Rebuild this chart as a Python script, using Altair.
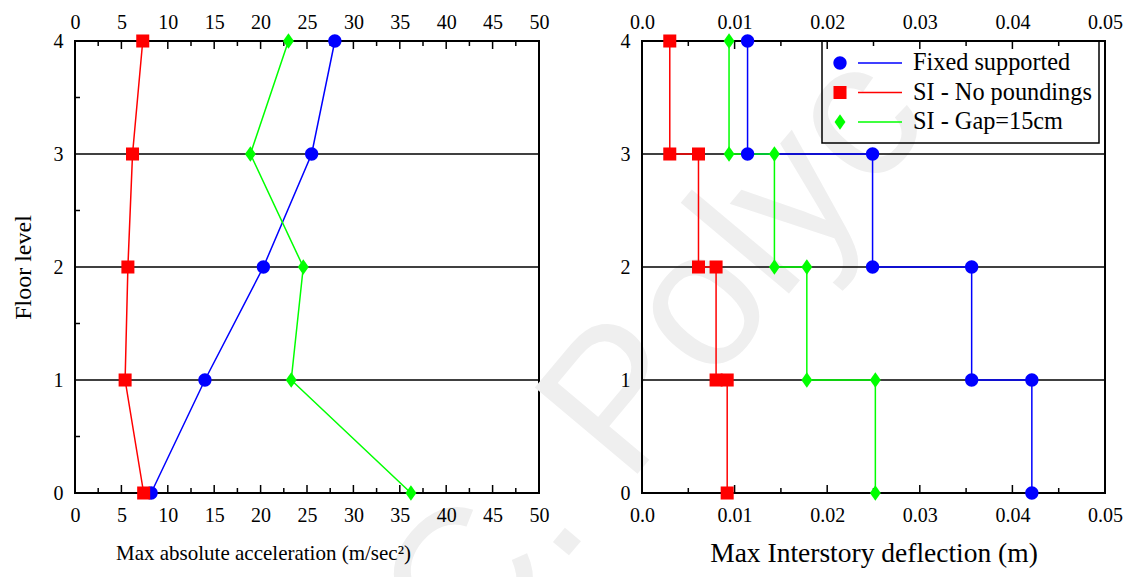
import altair as alt
import pandas as pd

# ---------------------------------------------------------------- data
floors = [0, 1, 2, 3, 4]
series_names = ["Fixed supported", "SI - No poundings", "SI - Gap=15cm"]
series_colors = ["#0000ff", "#ff0000", "#00ff00"]

# Max absolute acceleration at each floor level (m/sec^2)
acc_fixed = [8.2, 14.0, 20.3, 25.5, 28.0]
acc_no_pounding = [7.4, 5.4, 5.7, 6.2, 7.3]
acc_gap15 = [36.2, 23.3, 24.6, 18.9, 23.0]

# Max interstory deflection of storeys 1..4 (m)
drift_fixed = [0.0421, 0.0356, 0.0249, 0.0114]
drift_no_pounding = [0.0092, 0.0080, 0.0061, 0.0030]
drift_gap15 = [0.0252, 0.0178, 0.0143, 0.0094]

acc_ticks_major = [0, 5, 10, 15, 20, 25, 30, 35, 40, 45, 50]
acc_ticks_minor = [2.5, 7.5, 12.5, 17.5, 22.5, 27.5, 32.5, 37.5, 42.5, 47.5]
drift_ticks_major = [0.0, 0.01, 0.02, 0.03, 0.04, 0.05]
drift_ticks_minor = [0.005, 0.015, 0.025, 0.035, 0.045]
floor_ticks_minor = [0.5, 1.5, 2.5, 3.5]

watermark_text = "C. Polyc"

# ---------------------------------------------------------------- styling
SERIF = "Liberation Serif"
W1, W2, H = 464, 463, 452
MAJOR, MINOR = 8, 5
MARKER_SIZE = 196  # custom paths are scaled by sqrt(size)/2 = 7 px per unit

marker_paths = [
    "M 0.95 0 C 0.95 0.5247 0.5247 0.95 0 0.95 C -0.5247 0.95 -0.95 0.5247 -0.95 0 "
    "C -0.95 -0.5247 -0.5247 -0.95 0 -0.95 C 0.5247 -0.95 0.95 -0.5247 0.95 0 Z",
    "M -0.93 -0.93 L 0.93 -0.93 L 0.93 0.93 L -0.93 0.93 Z",
    "M 0 -1.1 L 0.78 0 L 0 1.1 L -0.78 0 Z",
]

acc_lists = [acc_fixed, acc_no_pounding, acc_gap15]
drift_lists = [drift_fixed, drift_no_pounding, drift_gap15]

acc_df = pd.DataFrame(
    [
        {"series": name, "floor": f, "acc": v}
        for name, values in zip(series_names, acc_lists)
        for f, v in zip(floors, values)
    ]
)

# step profile: each storey's deflection spans from its base floor to its top floor
drift_rows = []
for name, values in zip(series_names, drift_lists):
    for k, d in enumerate(values, start=1):
        drift_rows.append({"series": name, "floor": k - 1, "drift": d, "step": 2 * k - 2})
        drift_rows.append({"series": name, "floor": k, "drift": d, "step": 2 * k - 1})
drift_df = pd.DataFrame(drift_rows)

color_scale = alt.Scale(domain=series_names, range=series_colors)
y_scale = alt.Scale(domain=[0, 4], nice=False, zero=False)


def panel(df, field, x_domain, width, major, minor, x_title, title_x, title_size,
          label_expr=None, y_title=None, y_minor=None):
    x_scale = alt.Scale(domain=x_domain, nice=False, zero=False)
    y_axis = alt.Axis(orient="left", values=floors, format="d", title=y_title,
                      titleFontSize=24, titlePadding=18, zindex=1)
    extra = {"labelExpr": label_expr} if label_expr else {}
    bottom_axis = alt.Axis(orient="bottom", values=major, title=x_title,
                           titleFontSize=title_size, titleX=title_x, titleY=60,
                           titleBaseline="middle", zindex=1, **extra)
    top_axis = alt.Axis(orient="top", values=major, title=None, zindex=1, **extra)

    def yenc():
        return alt.Y("floor:Q", scale=y_scale, axis=y_axis)

    layers = []

    if y_title is not None:
        # faint watermark lettering behind everything
        layers.append(
            alt.Chart(pd.DataFrame({"t": [watermark_text]}))
            .mark_text(font="Liberation Sans", fontSize=195, color="#efefef",
                       angle=310, align="left", baseline="alphabetic")
            .encode(text="t:N", x=alt.value(392), y=alt.value(636))
        )

    # horizontal floor lines
    layers.append(
        alt.Chart(pd.DataFrame({"floor": floors}))
        .mark_rule(color="black", strokeWidth=1.5)
        .encode(y=yenc(), x=alt.value(0), x2=alt.value(width))
    )

    tick_major = pd.DataFrame({"v": major})
    tick_minor = pd.DataFrame({"v": minor})

    # inward ticks on top and bottom frame
    layers.append(
        alt.Chart(tick_major).mark_rule(color="black", strokeWidth=1.5)
        .encode(x=alt.X("v:Q", scale=x_scale, axis=top_axis),
                y=alt.value(0), y2=alt.value(MAJOR))
    )
    layers.append(
        alt.Chart(tick_minor).mark_rule(color="black", strokeWidth=1.5)
        .encode(x=alt.X("v:Q", scale=x_scale, axis=None),
                y=alt.value(0), y2=alt.value(MINOR))
    )
    layers.append(
        alt.Chart(tick_major).mark_rule(color="black", strokeWidth=1.5)
        .encode(x=alt.X("v:Q", scale=x_scale, axis=None),
                y=alt.value(H), y2=alt.value(H - MAJOR))
    )
    layers.append(
        alt.Chart(tick_minor).mark_rule(color="black", strokeWidth=1.5)
        .encode(x=alt.X("v:Q", scale=x_scale, axis=None),
                y=alt.value(H), y2=alt.value(H - MINOR))
    )
    if y_minor:
        layers.append(
            alt.Chart(pd.DataFrame({"floor": y_minor})).mark_rule(color="black", strokeWidth=1.5)
            .encode(y=yenc(), x=alt.value(0), x2=alt.value(MINOR))
        )

    # profile lines
    order_field = "step:Q" if "step" in df.columns else "floor:Q"
    layers.append(
        alt.Chart(df).mark_line(strokeWidth=1.5)
        .encode(
            x=alt.X(f"{field}:Q", scale=x_scale, axis=bottom_axis),
            y=yenc(),
            color=alt.Color("series:N", scale=color_scale, legend=None),
            order=alt.Order(order_field),
        )
    )

    # markers
    for name, col, path in zip(series_names, series_colors, marker_paths):
        layers.append(
            alt.Chart(df).transform_filter(alt.datum.series == name)
            .mark_point(shape=path, filled=True, size=MARKER_SIZE, color=col, opacity=1)
            .encode(x=alt.X(f"{field}:Q", scale=x_scale, axis=None), y=yenc())
        )
    return layers


left = alt.layer(
    *panel(acc_df, "acc", [0, 50], W1, acc_ticks_major, acc_ticks_minor,
           "Max absolute acceleration (m/sec²)", 188, 21,
           y_title="Floor level", y_minor=floor_ticks_minor)
).properties(width=W1, height=H)

right_plot = alt.layer(
    *panel(drift_df, "drift", [0, 0.05], W2, drift_ticks_major, drift_ticks_minor,
           "Max Interstory deflection (m)", W2 / 2, 27.5,
           label_expr="datum.value == 0 ? '0.0' : format(datum.value, '.2f')")
)

# ---------------------------------------------------------------- legend box (upper right)
legend_df = pd.DataFrame({"series": series_names, "row": [0, 1, 2]})
row_y = alt.Y("row:Q", scale=alt.Scale(domain=[0, 2], range=[22, 81], nice=False, zero=False),
              axis=None)
legend_color = alt.Color("series:N", scale=color_scale, legend=None)

legend_frame = (
    alt.Chart(pd.DataFrame({"k": [0]}))
    .mark_rect(fill="transparent", stroke="black", strokeWidth=1.5)
    .encode(x=alt.value(180), x2=alt.value(457), y=alt.value(0), y2=alt.value(102))
)
legend_markers = (
    alt.Chart(legend_df)
    .mark_point(filled=True, size=MARKER_SIZE, opacity=1)
    .encode(
        x=alt.value(198), y=row_y, color=legend_color,
        shape=alt.Shape("series:N", scale=alt.Scale(domain=series_names, range=marker_paths),
                        legend=None),
    )
)
legend_lines = (
    alt.Chart(legend_df)
    .mark_rule(strokeWidth=1.5)
    .encode(x=alt.value(216), x2=alt.value(260), y=row_y, color=legend_color)
)
legend_labels = (
    alt.Chart(legend_df)
    .mark_text(align="left", baseline="middle", font=SERIF, fontSize=24.3, color="black")
    .encode(x=alt.value(271), y=row_y, text="series:N")
)
legend_box = alt.layer(legend_frame, legend_lines, legend_markers, legend_labels)

right = (
    alt.layer(right_plot, legend_box)
    .resolve_scale(y="independent")
    .properties(width=W2, height=H)
)

chart = (
    alt.hconcat(left, right, spacing=103, bounds="flush")
    .properties(padding={"left": 10, "top": 11, "right": 0, "bottom": 0}, background="white")
    .configure_view(stroke="black", strokeWidth=2)
    .configure_axis(
        labelFont=SERIF, labelFontSize=20, labelColor="black",
        titleFont=SERIF, titleFontWeight="normal", titleColor="black",
        ticks=False, domain=False, grid=False, labelFlush=False, labelOverlap=False,
    )
    .configure_axisTop(labelPadding=9)
    .configure_axisBottom(labelPadding=12)
    .configure_axisLeft(labelPadding=12)
)

chart.save("out.html", embed_options={"renderer": "svg", "actions": False})
